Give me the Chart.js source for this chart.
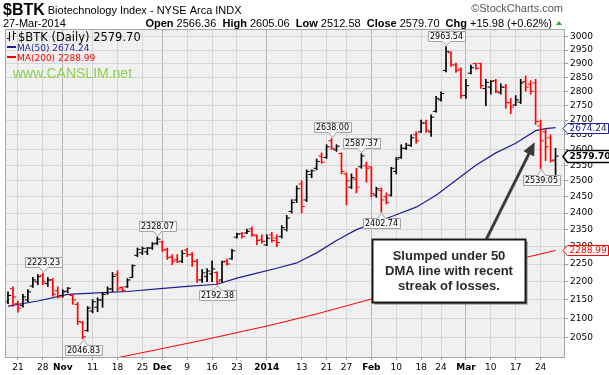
<!DOCTYPE html>
<html>
<head>
<meta charset="utf-8">
<script src="https://cdn.jsdelivr.net/npm/chart.js@4.4.1/dist/chart.umd.min.js"></script>
<style>
  html, body { margin: 0; padding: 0; background: #fff; }
  canvas { display: block; }
</style>
</head>
<body>
<canvas id="btkChart" width="609" height="375"></canvas>
<script>
// trading days shown (Oct 17 2013 .. Mar 27 2014)
const dates = [
  '10-17','10-18','10-21','10-22','10-23','10-24','10-25','10-28','10-29','10-30','10-31',
  '11-01','11-04','11-05','11-06','11-07','11-08','11-11','11-12','11-13','11-14','11-15',
  '11-18','11-19','11-20','11-21','11-22','11-25','11-26','11-27','11-29',
  '12-02','12-03','12-04','12-05','12-06','12-09','12-10','12-11','12-12','12-13',
  '12-16','12-17','12-18','12-19','12-20','12-23','12-24','12-26','12-27','12-30','12-31',
  '01-02','01-03','01-06','01-07','01-08','01-09','01-10','01-13','01-14','01-15','01-16','01-17',
  '01-21','01-22','01-23','01-24','01-27','01-28','01-29','01-30','01-31',
  '02-03','02-04','02-05','02-06','02-07','02-10','02-11','02-12','02-13','02-14',
  '02-18','02-19','02-20','02-21','02-24','02-25','02-26','02-27','02-28',
  '03-03','03-04','03-05','03-06','03-07','03-10','03-11','03-12','03-13','03-14',
  '03-17','03-18','03-19','03-20','03-21','03-24','03-25','03-26','03-27'
];

const opens = [
  2145, 2181, 2140, 2135, 2150, 2188, 2200, 2218, 2195, 2205, 2175,
  2162, 2174, 2162, 2138, 2090, 2068, 2120, 2130, 2150, 2170, 2180,
  2220, 2184, 2186, 2212, 2275, 2282, 2285, 2296, 2310,
  2314, 2292, 2270, 2262, 2258, 2290, 2278, 2258, 2205, 2215,
  2222, 2226, 2205, 2258, 2265, 2328, 2338, 2340, 2352, 2332, 2320,
  2305, 2335, 2325, 2330, 2350, 2405, 2440, 2490, 2440, 2520, 2540, 2580,
  2575, 2630, 2600, 2588, 2522, 2480, 2505, 2545, 2548,
  2545, 2455, 2470, 2450, 2455, 2530, 2575, 2605, 2615, 2650,
  2660, 2690, 2660, 2730, 2770, 2875, 2940, 2895, 2880,
  2785, 2865, 2900, 2900, 2810, 2815, 2838, 2795, 2815, 2760,
  2752, 2762, 2835, 2825, 2830, 2680, 2660, 2640, 2566.36
];
const highs = [
  2172, 2186, 2147, 2165, 2178, 2212, 2220, 2223.23, 2212, 2209, 2186,
  2178, 2184, 2165, 2143, 2092, 2132, 2151, 2156, 2170, 2186, 2226,
  2231, 2186, 2209, 2248, 2296, 2299, 2298, 2312, 2328.07,
  2316, 2296, 2277, 2277, 2289, 2296, 2283, 2263, 2234, 2237,
  2259, 2228, 2258, 2264, 2292, 2340, 2342, 2352, 2358, 2335, 2335,
  2335, 2342, 2335, 2362, 2393, 2441, 2484, 2500, 2535, 2535, 2570, 2590,
  2617, 2638.00, 2617, 2590, 2525, 2522, 2540, 2587.37, 2560,
  2545, 2480, 2478, 2462, 2543, 2575, 2617, 2622, 2650, 2660,
  2700, 2700, 2718, 2782, 2798, 2963.54, 2945, 2902, 2885,
  2843, 2895, 2902, 2902, 2843, 2838, 2843, 2827, 2825, 2775,
  2785, 2843, 2855, 2838, 2843, 2700, 2672, 2650, 2605.06
];
const lows = [
  2140, 2132, 2117, 2130, 2145, 2184, 2192, 2192, 2187, 2160, 2155,
  2157, 2170, 2138, 2084, 2046.83, 2066, 2115, 2118, 2130, 2165, 2173,
  2173, 2173, 2184, 2212, 2271, 2277, 2277, 2292, 2306,
  2286, 2263, 2248, 2254, 2254, 2271, 2243, 2198, 2198, 2200,
  2200, 2192.38, 2198, 2247, 2263, 2325, 2325, 2338, 2330, 2306, 2310,
  2303, 2313, 2300, 2325, 2346, 2400, 2432, 2400, 2435, 2510, 2535, 2556,
  2572, 2601, 2595, 2522, 2425, 2475, 2462, 2540, 2496,
  2450, 2448, 2402.74, 2428, 2452, 2522, 2572, 2601, 2611, 2622,
  2658, 2658, 2645, 2727, 2765, 2870, 2890, 2868, 2775,
  2775, 2862, 2880, 2810, 2750, 2790, 2795, 2790, 2740, 2722,
  2750, 2757, 2800, 2790, 2685, 2539.05, 2565, 2560, 2512.58
];
const closes = [
  2162, 2158, 2128, 2158, 2172, 2205, 2214, 2200, 2205, 2165, 2158,
  2172, 2182, 2150, 2092, 2052, 2128, 2145, 2150, 2165, 2180, 2215,
  2180, 2176, 2205, 2245, 2292, 2295, 2296, 2308, 2322,
  2290, 2268, 2258, 2256, 2280, 2276, 2258, 2205, 2225, 2230,
  2236, 2200, 2256, 2250, 2288, 2337, 2330, 2345, 2335, 2318, 2315,
  2325, 2318, 2312, 2356, 2385, 2432, 2475, 2420, 2530, 2532, 2562, 2560,
  2610, 2605, 2612, 2530, 2500, 2510, 2480, 2580, 2540,
  2460, 2475, 2440, 2432, 2540, 2570, 2605, 2615, 2640, 2630,
  2690, 2665, 2710, 2775, 2792, 2945, 2895, 2875, 2785,
  2820, 2885, 2882, 2820, 2832, 2836, 2800, 2815, 2760, 2745,
  2770, 2830, 2815, 2800, 2695, 2630, 2610, 2563.72, 2579.70
];

// moving averages
const ma50Dates = ['10-17','10-25','11-04','11-12','11-20','11-29','12-09','12-17','12-23','12-30',
  '01-06','01-10','01-16','01-23','01-29','02-04','02-10','02-14','02-21','02-27',
  '03-05','03-11','03-17','03-21','03-25','03-27'];
const ma50Vals = [2133, 2147, 2165, 2169, 2173, 2180, 2187, 2193, 2210, 2224,
  2238, 2253, 2282, 2318, 2350, 2372, 2395, 2418, 2455, 2502,
  2550, 2590, 2622, 2664, 2671, 2674.24];
const ma200Dates = ['11-18','12-11','01-02','01-16','01-30','02-14','03-03','03-17','03-27'];
const ma200Vals = [1998, 2040, 2080, 2112, 2145, 2185, 2222, 2262, 2288.99];

// axis ticks
const tickDates = ['10-21','10-28','11-01','11-11','11-18','11-25','12-02','12-09','12-16','12-23',
  '01-02','01-13','01-21','01-27','02-03','02-10','02-18','02-24','03-03','03-10','03-17','03-24'];
const tickLabels = ['21','28','Nov','11','18','25','Dec','9','16','23',
  '2014','13','21','27','Feb','10','18','24','Mar','10','17','24'];
const yTicks = [2050, 2100, 2150, 2200, 2250, 2300, 2350, 2400, 2450, 2500, 2550, 2600,
  2650, 2700, 2750, 2800, 2850, 2900, 2950, 3000];

// high / low call-outs
const calloutDates = ['10-28','11-07','11-29','12-17','01-22','01-30','02-05','02-25','03-24'];
const calloutSides = ['H','L','H','L','H','H','L','H','L'];

const noteLines = ['Slumped under 50', 'DMA line with recent', 'streak of losses.'];

const FONT = '"DejaVu Sans", Verdana, sans-serif';
const HFONT = '"Liberation Sans", Arial, sans-serif';

const xOf = d => dates.indexOf(d);
const last = closes.length - 1;
const barColors = closes.map((c, k) => (k > 0 && c < closes[k - 1]) ? '#ff0000' : '#000000');

// annotation placement in chart units (index, value)
const note = { left: 73.2, right: 103.9, top: 2322, bottom: 2145,
  tail: [96.1, 2322], head: [105.8, 2625] };

function pill(ctx, text, cx, tipY, above) {
  ctx.font = '8px ' + FONT;
  const w = Math.round(ctx.measureText(text).width) + 4, h = 10;
  cx = Math.round(cx) + 0.5;
  const x0 = Math.round(cx - w / 2) + 0.5;
  const y0 = above ? Math.round(tipY - 6 - h) + 0.5 : Math.round(tipY + 6) + 0.5;
  ctx.beginPath();
  if (above) {
    const ny = tipY - 1;
    ctx.moveTo(x0, y0); ctx.lineTo(x0 + w, y0); ctx.lineTo(x0 + w, y0 + h);
    ctx.lineTo(cx + 4, y0 + h); ctx.lineTo(cx, ny); ctx.lineTo(cx - 4, y0 + h); ctx.lineTo(x0, y0 + h);
  } else {
    const ny = tipY + 1;
    ctx.moveTo(x0, y0 + h); ctx.lineTo(x0 + w, y0 + h); ctx.lineTo(x0 + w, y0);
    ctx.lineTo(cx + 4, y0); ctx.lineTo(cx, ny); ctx.lineTo(cx - 4, y0); ctx.lineTo(x0, y0);
  }
  ctx.closePath();
  ctx.fillStyle = '#f6f6f6'; ctx.fill();
  ctx.strokeStyle = '#a4a4a4'; ctx.lineWidth = 1; ctx.stroke();
  ctx.fillStyle = '#000'; ctx.textAlign = 'center'; ctx.textBaseline = 'middle';
  ctx.fillText(text, cx, y0 + h / 2 + 0.5);
}

function sideTag(ctx, area, text, y, color, bold) {
  ctx.font = (bold ? 'bold ' : '') + '9px ' + FONT;
  const w = Math.round(ctx.measureText(text).width) + 4, h = bold ? 12 : 10;
  const tip = area.right - 2, x0 = area.right + 2.5;
  y = Math.round(y) + 0.5;
  ctx.beginPath();
  ctx.moveTo(tip, y); ctx.lineTo(x0, y - h / 2); ctx.lineTo(x0 + w, y - h / 2);
  ctx.lineTo(x0 + w, y + h / 2); ctx.lineTo(x0, y + h / 2); ctx.closePath();
  ctx.fillStyle = '#fff'; ctx.fill();
  ctx.strokeStyle = color; ctx.lineWidth = bold ? 1.5 : 1; ctx.stroke();
  ctx.fillStyle = color; ctx.textAlign = 'left'; ctx.textBaseline = 'middle';
  ctx.fillText(text, x0 + 2, y + 0.5);
}

const decor = {
  id: 'decor',
  beforeDraw(chart) {
    const { ctx, chartArea: a } = chart;
    ctx.save();
    ctx.fillStyle = '#f0f0f0';
    ctx.fillRect(a.left, a.top, a.right - a.left, a.bottom - a.top);
    ctx.restore();
  },
  afterDraw(chart) {
    const { ctx, chartArea: a } = chart;
    const xs = chart.scales.x, ys = chart.scales.y;
    ctx.save();

    // plot frame
    ctx.strokeStyle = '#9fab9f'; ctx.lineWidth = 1;
    ctx.strokeRect(a.left + 0.5, a.top + 0.5, a.right - a.left - 1, a.bottom - a.top);

    // header
    ctx.fillStyle = '#000'; ctx.textAlign = 'left'; ctx.textBaseline = 'alphabetic';
    ctx.font = 'bold 16px ' + HFONT;
    ctx.fillText('$BTK', 3, 15);
    const tx = 3 + ctx.measureText('$BTK').width + 3;
    ctx.font = '11px ' + HFONT;
    ctx.fillText('Biotechnology Index - NYSE Arca INDX', tx, 14);
    ctx.fillText('27-Mar-2014', 3, 27);

    const chg = closes[last] - closes[last - 1];
    const parts = [
      ['Open', true], [' ' + opens[last].toFixed(2) + '  ', false],
      ['High', true], [' ' + highs[last].toFixed(2) + '  ', false],
      ['Low', true], [' ' + lows[last].toFixed(2) + '  ', false],
      ['Close', true], [' ' + closes[last].toFixed(2) + '  ', false],
      ['Chg', true], [' +' + chg.toFixed(2) + ' (+' + (chg / closes[last - 1] * 100).toFixed(2) + '%)', false]
    ];
    const fontOf = b => (b ? 'bold ' : '') + '11px ' + HFONT;
    let total = 0;
    parts.forEach(p => { ctx.font = fontOf(p[1]); total += ctx.measureText(p[0]).width; });
    let qx = 552 - total;
    parts.forEach(p => { ctx.font = fontOf(p[1]); ctx.fillText(p[0], qx, 27); qx += ctx.measureText(p[0]).width; });
    ctx.fillStyle = '#22b022';
    ctx.beginPath(); ctx.moveTo(556, 25); ctx.lineTo(562, 25); ctx.lineTo(559, 21); ctx.closePath(); ctx.fill();

    ctx.fillStyle = '#555'; ctx.textAlign = 'right'; ctx.font = '11px ' + HFONT;
    ctx.fillText('\u00a9StockCharts.com', 563, 12);

    // legend
    ctx.textAlign = 'left';
    ctx.strokeStyle = '#000'; ctx.lineWidth = 1;
    ctx.beginPath();
    ctx.moveTo(9.5, 32); ctx.lineTo(9.5, 41); ctx.moveTo(7, 38.5); ctx.lineTo(9.5, 38.5);
    ctx.moveTo(13.5, 31); ctx.lineTo(13.5, 40); ctx.moveTo(13.5, 33.5); ctx.lineTo(16, 33.5);
    ctx.stroke();
    ctx.fillStyle = '#000'; ctx.font = '11.5px ' + FONT;
    ctx.fillText('$BTK (Daily) ' + closes[last].toFixed(2), 18, 40.5);
    ctx.font = '9px ' + FONT;
    ctx.fillStyle = '#1e1e96';
    ctx.fillRect(7, 46, 9, 2);
    ctx.fillText('MA(50) ' + ma50Vals[ma50Vals.length - 1].toFixed(2), 17, 50.5);
    ctx.fillStyle = '#ff0000';
    ctx.fillRect(7, 56, 9, 2);
    ctx.fillText('MA(200) ' + ma200Vals[ma200Vals.length - 1].toFixed(2), 17, 60.5);
    ctx.fillStyle = '#8fd14f'; ctx.font = '14px ' + HFONT;
    ctx.fillText('www.CANSLIM.net', 13, 78);

    // high / low call-outs
    calloutDates.forEach((d, k) => {
      const i = xOf(d);
      const hi = calloutSides[k] === 'H';
      const v = hi ? highs[i] : lows[i];
      pill(ctx, v.toFixed(2), xs.getPixelForValue(i), ys.getPixelForValue(v), hi);
    });

    // note with arrow
    const bx0 = Math.round(xs.getPixelForValue(note.left)) + 0.5;
    const bx1 = Math.round(xs.getPixelForValue(note.right)) + 0.5;
    const by0 = Math.round(ys.getPixelForValue(note.top)) + 0.5;
    const by1 = Math.round(ys.getPixelForValue(note.bottom)) + 0.5;
    const t = [xs.getPixelForValue(note.tail[0]), ys.getPixelForValue(note.tail[1])];
    const h = [xs.getPixelForValue(note.head[0]), ys.getPixelForValue(note.head[1])];
    const ang = Math.atan2(h[1] - t[1], h[0] - t[0]);
    ctx.strokeStyle = '#3c3c3c'; ctx.fillStyle = '#3c3c3c'; ctx.lineWidth = 3;
    ctx.beginPath(); ctx.moveTo(t[0], t[1]);
    ctx.lineTo(h[0] - 9 * Math.cos(ang), h[1] - 9 * Math.sin(ang)); ctx.stroke();
    ctx.beginPath(); ctx.moveTo(h[0], h[1]);
    ctx.lineTo(h[0] - 13 * Math.cos(ang) + 6 * Math.sin(ang), h[1] - 13 * Math.sin(ang) - 6 * Math.cos(ang));
    ctx.lineTo(h[0] - 13 * Math.cos(ang) - 6 * Math.sin(ang), h[1] - 13 * Math.sin(ang) + 6 * Math.cos(ang));
    ctx.closePath(); ctx.fill();

    ctx.fillStyle = '#7a7a7a';
    ctx.fillRect(bx0 + 2, by0 + 2, bx1 - bx0, by1 - by0);
    ctx.fillStyle = '#fff';
    ctx.fillRect(bx0, by0, bx1 - bx0, by1 - by0);
    ctx.strokeStyle = '#1a1a1a'; ctx.lineWidth = 2;
    ctx.strokeRect(bx0, by0, bx1 - bx0, by1 - by0);
    ctx.fillStyle = '#2a2a2a'; ctx.font = 'bold 13px ' + HFONT;
    ctx.textAlign = 'center'; ctx.textBaseline = 'alphabetic';
    const mx = (bx0 + bx1) / 2;
    noteLines.forEach((s, k) => ctx.fillText(s, mx, by0 + 20 + k * 15));

    // value tags on the right axis
    sideTag(ctx, a, ma50Vals[ma50Vals.length - 1].toFixed(2), ys.getPixelForValue(ma50Vals[ma50Vals.length - 1]), '#1e1e96', false);
    sideTag(ctx, a, closes[last].toFixed(2), ys.getPixelForValue(closes[last]), '#000', true);
    sideTag(ctx, a, ma200Vals[ma200Vals.length - 1].toFixed(2), ys.getPixelForValue(ma200Vals[ma200Vals.length - 1]), '#ff0000', false);

    ctx.restore();
  }
};

new Chart(document.getElementById('btkChart'), {
  type: 'bar',
  data: {
    datasets: [
      { type: 'line', data: ma200Dates.map((d, k) => ({ x: xOf(d), y: ma200Vals[k] })),
        borderColor: '#ff0000', borderWidth: 1, pointRadius: 0, tension: 0, order: 6 },
      { type: 'line', data: ma50Dates.map((d, k) => ({ x: xOf(d), y: ma50Vals[k] })),
        borderColor: '#1e1e96', borderWidth: 1.2, pointRadius: 0, tension: 0, order: 5 },
      { type: 'bar', data: dates.map((d, k) => ({ x: k, y: [lows[k], highs[k]] })),
        backgroundColor: barColors, barThickness: 1, borderWidth: 0, order: 3 },
      { type: 'scatter', data: dates.map((d, k) => ({ x: k - 0.32, y: opens[k] })),
        pointStyle: 'line', pointRadius: 1.6, borderWidth: 1, borderColor: barColors,
        pointBorderColor: barColors, order: 2 },
      { type: 'scatter', data: dates.map((d, k) => ({ x: k + 0.32, y: closes[k] })),
        pointStyle: 'line', pointRadius: 1.6, borderWidth: 1, borderColor: barColors,
        pointBorderColor: barColors, order: 1 }
    ]
  },
  options: {
    responsive: false,
    devicePixelRatio: 1,
    animation: false,
    events: [],
    layout: { padding: { left: 5, top: 29, right: 0, bottom: 2 } },
    plugins: { legend: { display: false }, tooltip: { enabled: false } },
    scales: {
      x: {
        type: 'linear', min: -0.6, max: 111.9, offset: false,
        afterBuildTicks: s => { s.ticks = tickDates.map(d => ({ value: xOf(d) })); },
        afterFit: s => { s.height = 16; },
        ticks: {
          autoSkip: false, maxRotation: 0, padding: 2, color: '#000',
          callback: (v, k) => tickLabels[k],
          font: c => ({ family: FONT, size: 9, weight: /^\d{1,2}$/.test(tickLabels[c.index]) ? 'normal' : 'bold' })
        },
        grid: {
          offset: false, tickLength: 3, tickColor: '#999',
          color: c => /^\d{1,2}$/.test(tickLabels[c.index] || '') ? '#d6d6d6' : '#b4b4b4'
        },
        border: { display: false }
      },
      y: {
        type: 'logarithmic', position: 'right', min: 2000, max: 3030,
        afterBuildTicks: s => { s.ticks = yTicks.map(v => ({ value: v })); },
        afterFit: s => { s.width = 44; },
        ticks: { autoSkip: false, padding: 2, color: '#000', font: { family: FONT, size: 9 }, callback: v => String(v) },
        grid: { color: '#d6d6d6', tickLength: 3, tickColor: '#999' },
        border: { display: false }
      }
    }
  },
  plugins: [decor]
});
</script>
</body>
</html>
